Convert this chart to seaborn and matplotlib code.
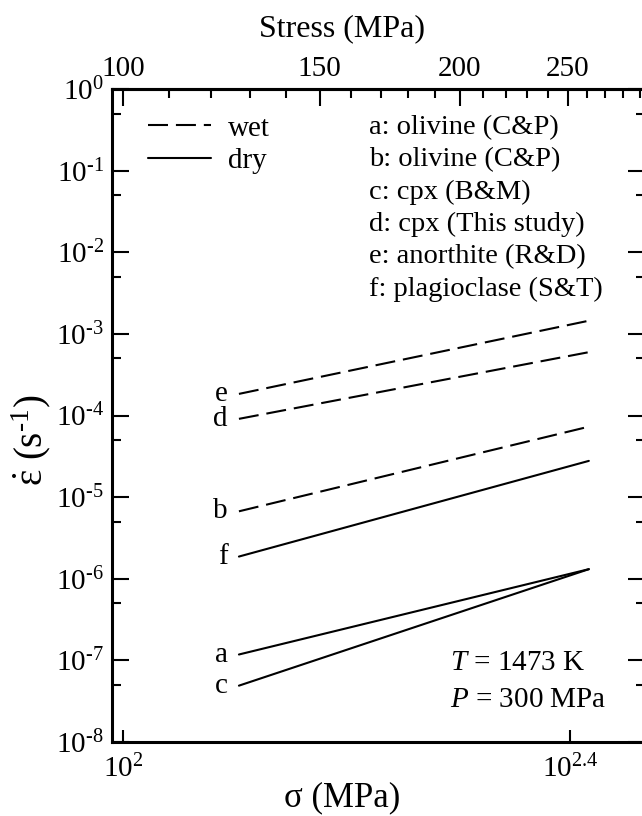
import numpy as np
import pandas as pd
import matplotlib
matplotlib.use("Agg")
import matplotlib.pyplot as plt
import seaborn as sns
from matplotlib.ticker import (FixedLocator, FixedFormatter,
                               NullFormatter, NullLocator, FuncFormatter)

# ---------------- data ----------------
minerals = ["a", "b", "c", "d", "e", "f"]
conditions = ["dry", "wet", "dry", "wet", "wet", "dry"]
sigma_start = 127.0
sigma_end = 261.0
rate_start = [1.18e-7, 6.7e-6, 4.9e-8, 9.1e-5, 1.84e-4, 1.87e-6]
rate_end = [1.31e-6, 7.3e-5, 1.31e-6, 5.97e-4, 1.45e-3, 2.78e-5]

key_lines = ["a: olivine (C&P)", "b: olivine (C&P)", "c: cpx (B&M)",
             "d: cpx (This study)", "e: anorthite (R&D)", "f: plagioclase (S&T)"]

bottom_ticks = [100.0, 10 ** 2.4]
bottom_labels = [r"$\mathdefault{10^{2}}$", r"$\mathdefault{10^{2.4}}$"]
top_ticks = [100, 150, 200, 250]
top_minor = [110, 120, 130, 140, 160, 170, 180, 190, 210, 220, 230, 240,
             260, 270, 280, 290]
y_exponents = [-8, -7, -6, -5, -4, -3, -2, -1, 0]

# ---------------- style ----------------
sns.set_theme(style="ticks")
plt.rcParams["font.family"] = ["Liberation Serif", "DejaVu Serif"]
plt.rcParams["mathtext.fontset"] = "custom"
plt.rcParams["mathtext.rm"] = "Liberation Serif"
plt.rcParams["mathtext.it"] = "Liberation Serif:italic"
plt.rcParams["mathtext.bf"] = "Liberation Serif:bold"
plt.rcParams["axes.linewidth"] = 2.2
for k in ["text.color", "axes.labelcolor", "xtick.color", "ytick.color",
          "axes.edgecolor"]:
    plt.rcParams[k] = "black"

rows = []
for m, c, r0, r1 in zip(minerals, conditions, rate_start, rate_end):
    rows.append(dict(mineral=m, condition=c, sigma=sigma_start, rate=r0))
    rows.append(dict(mineral=m, condition=c, sigma=sigma_end, rate=r1))
df = pd.DataFrame(rows)

fig = plt.figure(figsize=(6.42, 8.16), dpi=100)
ax = fig.add_axes([0.1745, 0.0907, 0.8302, 0.8002])

sns.lineplot(data=df, x="sigma", y="rate", units="mineral", estimator=None,
             style="condition", style_order=["wet", "dry"],
             dashes={"wet": (9.6, 3.8), "dry": ""}, color="black",
             linewidth=1.5, ax=ax)

ax.set_xscale("log")
ax.set_yscale("log")
ax.set_xlim(97.8, 293.0)
ax.set_ylim(1e-8, 1e0)


def ylab(v, pos):
    e = int(round(np.log10(v)))
    if e < 0:
        return r"$\mathdefault{10^{\text{-}%d}}$" % (-e)
    return r"$\mathdefault{10^{%d}}$" % e


# ticks
ax.yaxis.set_major_locator(FixedLocator([10.0 ** e for e in y_exponents]))
ax.yaxis.set_major_formatter(FuncFormatter(ylab))
ax.yaxis.set_minor_locator(FixedLocator([5 * 10.0 ** e for e in y_exponents[:-1]]))
ax.yaxis.set_minor_formatter(NullFormatter())
ax.xaxis.set_major_locator(FixedLocator(bottom_ticks))
ax.xaxis.set_major_formatter(FixedFormatter(bottom_labels))
ax.xaxis.set_minor_locator(NullLocator())
ax.tick_params(which="both", direction="in", top=False, right=True,
               width=1.5, color="black", labelsize=21)
ax.tick_params(axis="y", which="major", length=12, pad=6)
ax.tick_params(axis="y", which="minor", length=6.5)
ax.tick_params(axis="x", which="major", length=9, pad=9)

secax = ax.secondary_xaxis("top", functions=(lambda x: x, lambda x: x))
secax.xaxis.set_major_locator(FixedLocator(top_ticks))
secax.xaxis.set_major_formatter(FixedFormatter([str(t) for t in top_ticks]))
secax.xaxis.set_minor_locator(FixedLocator(top_minor))
secax.xaxis.set_minor_formatter(NullFormatter())
secax.tick_params(which="both", direction="in", width=1.5, labelsize=21, pad=5)
secax.tick_params(which="major", length=12)
secax.tick_params(which="minor", length=6.5)
secax.spines["top"].set_linewidth(2.2)
secax.set_xlabel("Stress (MPa)", fontsize=23, labelpad=14)
secax.xaxis.label.set_x(0.4315)

ax.set_xlabel("σ (MPa)", fontsize=25, labelpad=-1)
ax.xaxis.label.set_x(0.4315)
ax.set_ylabel(r"$\dot{\mathrm{\varepsilon}}$ (s$^{\text{-}1}$)", fontsize=28)
ax.yaxis.set_label_coords(-0.11, 0.4625)

# legend
sns.move_legend(ax, "upper left", bbox_to_anchor=(0.0675, 0.96), frameon=False,
                title=None, fontsize=21, handlelength=2.15, labelspacing=0.2,
                handletextpad=0.6, borderaxespad=0, borderpad=0)

# mineral key
ax.text(0.482, 0.96, "\n".join(key_lines), transform=ax.transAxes,
        ha="left", va="top", fontsize=20.5, linespacing=1.38)

# line letters
for m, r0 in zip(minerals, rate_start):
    ax.annotate(m, xy=(sigma_start, r0), xytext=(-8, 0),
                textcoords="offset points", ha="right", va="center",
                fontsize=21)

ax.text(0.634, 0.121, r"$T$ = 1473 K", transform=ax.transAxes,
        ha="left", va="center", fontsize=21)
ax.text(0.634, 0.064, r"$P$ = 300 MPa", transform=ax.transAxes,
        ha="left", va="center", fontsize=21)

fig.savefig("out.png", dpi=100)
